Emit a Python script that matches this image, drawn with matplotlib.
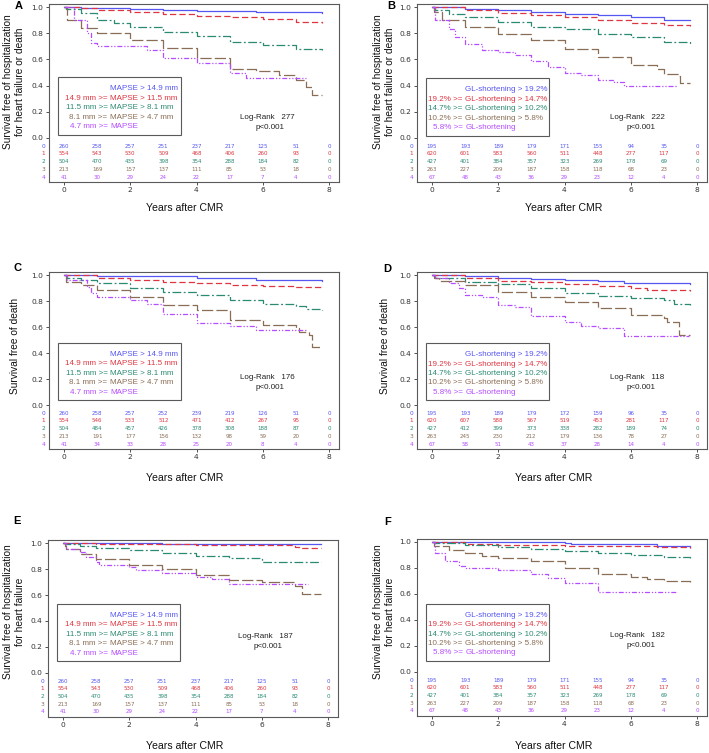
import matplotlib
matplotlib.use("Agg")
import matplotlib.pyplot as plt
from matplotlib.patches import Rectangle

# ---- data ---------------------------------------------------------------
years = [0, 1, 2, 3, 4, 5, 6, 7, 8]
group_ids = ["0", "1", "2", "3", "4"]

mapse_prefix = ["", "14.9 mm >=", "11.5 mm >=", "8.1 mm >=", "4.7 mm >="]
mapse_suffix = ["MAPSE > 14.9 mm", "MAPSE > 11.5 mm", "MAPSE > 8.1 mm",
                "MAPSE > 4.7 mm", "MAPSE"]
gl_prefix = ["", "19.2% >=", "14.7% >=", "10.2% >=", "5.8% >="]
gl_suffix = ["GL-shortening > 19.2%", "GL-shortening > 14.7%",
             "GL-shortening > 10.2%", "GL-shortening > 5.8%", "GL-shortening"]

# numbers at risk
risk_mapse_hf_death = [[260, 258, 257, 251, 237, 217, 125, 51, 0],
                       [554, 543, 530, 509, 468, 406, 260, 93, 0],
                       [504, 470, 435, 398, 354, 288, 184, 82, 0],
                       [213, 169, 157, 137, 111, 85, 53, 18, 0],
                       [41, 30, 29, 24, 22, 17, 7, 4, 0]]
risk_gl_hf_death = [[195, 193, 189, 179, 171, 155, 94, 35, 0],
                    [620, 601, 583, 560, 511, 448, 277, 117, 0],
                    [427, 401, 384, 357, 323, 269, 178, 69, 0],
                    [263, 227, 209, 187, 158, 118, 68, 23, 0],
                    [67, 48, 43, 36, 29, 23, 12, 4, 0]]
risk_mapse_death = [[260, 258, 257, 252, 239, 219, 126, 51, 0],
                    [554, 546, 533, 512, 471, 412, 267, 95, 0],
                    [504, 484, 457, 426, 378, 308, 188, 87, 0],
                    [213, 191, 177, 156, 132, 98, 59, 20, 0],
                    [41, 34, 33, 28, 25, 20, 8, 4, 0]]
risk_gl_death = [[195, 193, 189, 179, 172, 159, 96, 35, 0],
                 [620, 607, 588, 567, 519, 453, 281, 117, 0],
                 [427, 412, 399, 373, 338, 282, 189, 74, 0],
                 [263, 245, 230, 212, 179, 136, 78, 27, 0],
                 [67, 58, 51, 43, 37, 28, 14, 4, 0]]

# survival curves (time, survival) per group
A0 = [(0, 1.0), (0.5, 0.995), (1, 0.99), (2, 0.985), (3, 0.975), (4, 0.97), (5, 0.967), (5.8, 0.96), (7.8, 0.955)]
A1 = [(0, 1.0), (0.5, 0.99), (1, 0.98), (2, 0.96), (3, 0.95), (4, 0.935), (5, 0.925), (6, 0.91), (7, 0.885), (7.8, 0.875)]
A2 = [(0, 1.0), (0.05, 0.985), (0.5, 0.955), (1, 0.9), (1.5, 0.88), (2, 0.85), (3, 0.81), (4, 0.775), (5, 0.735), (6, 0.71), (7, 0.68), (7.8, 0.67)]
A3 = [(0, 1.0), (0.1, 0.9), (0.5, 0.84), (1, 0.8), (2, 0.75), (3, 0.685), (4, 0.61), (5, 0.53), (5.8, 0.51), (6.5, 0.48), (7, 0.44), (7.3, 0.39), (7.5, 0.33), (7.8, 0.33)]
A4 = [(0, 1.0), (0.3, 0.9), (0.7, 0.805), (0.8, 0.725), (1, 0.703), (2, 0.7), (2.5, 0.67), (3, 0.61), (4, 0.57), (5, 0.5), (5.5, 0.455), (7.3, 0.455)]

B0 = [(0, 1.0), (1, 0.987), (2, 0.975), (3, 0.96), (4, 0.95), (5, 0.936), (6, 0.925), (7, 0.9), (7.8, 0.9)]
B1 = [(0, 1.0), (1, 0.975), (2, 0.955), (3, 0.936), (4, 0.92), (5, 0.9), (6, 0.88), (7, 0.865), (7.8, 0.855)]
B2 = [(0, 1.0), (0.1, 0.975), (0.5, 0.95), (1, 0.925), (2, 0.885), (3, 0.85), (4, 0.83), (5, 0.795), (6, 0.77), (7, 0.733), (7.8, 0.715)]
B3 = [(0, 1.0), (0.05, 0.96), (0.3, 0.9), (1, 0.847), (2, 0.796), (3, 0.745), (4, 0.68), (5, 0.62), (6, 0.56), (6.8, 0.53), (7, 0.49), (7.45, 0.47), (7.5, 0.42), (7.8, 0.42)]
B4 = [(0, 1.0), (0.1, 0.9), (0.5, 0.835), (0.7, 0.77), (1, 0.72), (1.5, 0.67), (2, 0.656), (2.5, 0.63), (3, 0.59), (3.5, 0.54), (4, 0.5), (4.5, 0.48), (5, 0.44), (5.5, 0.43), (5.8, 0.4), (7.4, 0.4)]

C0 = [(0, 1.0), (1, 0.995), (2, 0.99), (4, 0.98), (5.8, 0.96), (7.8, 0.957)]
C1 = [(0, 1.0), (1, 0.975), (2, 0.96), (3, 0.95), (4, 0.935), (5, 0.923), (6, 0.915), (7, 0.905), (7.8, 0.903)]
C2 = [(0, 1.0), (0.1, 0.975), (0.5, 0.96), (1, 0.935), (2, 0.9), (3, 0.87), (4, 0.845), (5, 0.81), (6, 0.78), (7, 0.76), (7.3, 0.735), (7.8, 0.73)]
C3 = [(0, 1.0), (0.05, 0.95), (0.5, 0.923), (1, 0.885), (2, 0.834), (3, 0.77), (4, 0.73), (5, 0.655), (6, 0.616), (7, 0.59), (7.1, 0.565), (7.4, 0.54), (7.5, 0.45), (7.8, 0.45)]
C4 = [(0, 1.0), (0.1, 0.96), (0.7, 0.91), (0.8, 0.86), (1, 0.83), (2, 0.81), (2.5, 0.78), (3, 0.7), (4, 0.63), (5, 0.61), (5.8, 0.578), (7.3, 0.578)]

D0 = [(0, 1.0), (1, 0.99), (2, 0.98), (3, 0.97), (4, 0.96), (5, 0.955), (5.8, 0.937), (7.8, 0.93)]
D1 = [(0, 1.0), (1, 0.975), (2, 0.955), (3, 0.945), (4, 0.93), (5, 0.915), (6, 0.898), (6.5, 0.885), (7.8, 0.88)]
D2 = [(0, 1.0), (0.1, 0.975), (1, 0.95), (2, 0.928), (3, 0.9), (4, 0.865), (5, 0.84), (6, 0.82), (7, 0.81), (7.3, 0.78), (7.8, 0.77)]
D3 = [(0, 1.0), (0.05, 0.975), (0.2, 0.957), (1, 0.923), (2, 0.872), (3, 0.83), (4, 0.795), (5, 0.745), (6, 0.693), (7, 0.67), (7.1, 0.64), (7.45, 0.54), (7.8, 0.54)]
D4 = [(0, 1.0), (0.1, 0.975), (0.5, 0.935), (0.8, 0.9), (1, 0.845), (1.5, 0.834), (2, 0.77), (2.5, 0.757), (3, 0.685), (4, 0.64), (4.5, 0.61), (5, 0.59), (5.8, 0.527), (7.75, 0.527)]

E0 = [(0, 1.0), (3, 0.995), (4, 0.99), (7.8, 0.99)]
E1 = [(0, 1.0), (1, 0.995), (4, 0.987), (6, 0.982), (7, 0.97), (7.2, 0.96), (7.8, 0.96)]
E2 = [(0, 1.0), (0.05, 0.99), (0.5, 0.975), (1, 0.964), (2, 0.944), (3, 0.925), (4, 0.9), (5, 0.887), (6, 0.856), (7.8, 0.854)]
E3 = [(0, 1.0), (0.05, 0.98), (0.1, 0.956), (0.5, 0.918), (1, 0.88), (2, 0.828), (3, 0.8), (4, 0.75), (5, 0.713), (6, 0.7), (7, 0.667), (7.2, 0.61), (7.8, 0.605)]
E4 = [(0, 1.0), (0.1, 0.956), (0.5, 0.93), (0.7, 0.89), (1, 0.854), (1.1, 0.828), (2, 0.815), (2.2, 0.79), (3, 0.77), (4, 0.738), (4.5, 0.726), (5, 0.687), (7.4, 0.687)]

F0 = [(0, 1.0), (4, 0.992), (4.2, 0.985), (6.8, 0.972), (7.8, 0.962)]
F1 = [(0, 1.0), (1, 0.985), (2, 0.98), (3, 0.975), (4, 0.972), (5, 0.967), (6.8, 0.96), (7.8, 0.954)]
F2 = [(0, 1.0), (0.1, 0.99), (1, 0.975), (2, 0.96), (3, 0.946), (4, 0.933), (5, 0.915), (6, 0.9), (7, 0.885), (7.8, 0.877)]
F3 = [(0, 1.0), (0.05, 0.972), (0.5, 0.94), (1, 0.915), (1.5, 0.89), (2, 0.877), (3, 0.85), (4, 0.8), (5, 0.75), (6, 0.73), (6.5, 0.715), (7, 0.697), (7.8, 0.69)]
F4 = [(0, 1.0), (0.1, 0.915), (0.4, 0.85), (0.8, 0.813), (1, 0.8), (2, 0.787), (3, 0.75), (3.5, 0.723), (4, 0.685), (5, 0.615), (7.4, 0.615)]

logrank = {"A": 277, "B": 222, "C": 176, "D": 118, "E": 187, "F": 182}

# ---- style ---------------------------------------------------------------
colors = ["#5656f2", "#de3540", "#2b8a72", "#8a6d55", "#b54cff"]
styles = ["-", (0, (5, 2.5)), (0, (7, 2, 1.5, 2)), (0, (9, 2.5)), (0, (4, 1.5, 1, 1.5, 1, 1.5))]
frame_col = "#5a5a5a"
sans = ["Liberation Sans", "DejaVu Sans"]

W, H = 709, 753
fig = plt.figure(figsize=(W / 100, H / 100), dpi=100)

XLIM = (-0.45, 8.3)
YLIM = (-0.335, 1.025)
PX_X = 33.125


def make_axes(x0_px, top_px, px_y):
    left = x0_px - 0.45 * PX_X
    width = (XLIM[1] - XLIM[0]) * PX_X
    top = top_px - (YLIM[1] - 1.0) * px_y
    height = (YLIM[1] - YLIM[0]) * px_y
    return fig.add_axes([left / W, 1 - (top + height) / H, width / W, height / H])


def panel(ax, curves, risk, prefix, suffix, anchor, leg_bottom, lr_num, lr_xy):
    for pts, c, ls in zip(curves, colors, styles):
        t = [p[0] for p in pts]
        s = [p[1] for p in pts]
        ax.plot(t, s, drawstyle="steps-post", color=c, ls=ls, lw=0.9)
    ax.set_xlim(*XLIM)
    ax.set_ylim(*YLIM)
    ax.set_xticks([0, 2, 4, 6, 8])
    ax.set_yticks([0.0, 0.2, 0.4, 0.6, 0.8, 1.0])
    ax.set_yticklabels(["0.0", "0.2", "0.4", "0.6", "0.8", "1.0"])
    ax.tick_params(labelsize=5.4, colors="#333333", length=2, width=0.6, pad=2)
    for sp in ax.spines.values():
        sp.set_color(frame_col)
        sp.set_linewidth(0.8)

    # number at risk table
    row_y = [-0.062, -0.122, -0.183, -0.243, -0.300]
    for i, row in enumerate(risk):
        ax.text(-0.63, row_y[i], group_ids[i], color=colors[i], fontsize=4.2,
                ha="center", va="center", clip_on=False)
        for x, n in zip(years, row):
            ax.text(x, row_y[i], str(n), color=colors[i], fontsize=4.0,
                    ha="center", va="center")

    # legend box
    ax.add_patch(Rectangle((-0.18, leg_bottom), 3.71, 0.44, fill=True,
                           facecolor="white", edgecolor=frame_col, lw=0.8, zorder=3))
    for i in range(5):
        y = leg_bottom + 0.352 - 0.0725 * i
        if prefix[i]:
            ax.text(anchor - 0.08, y, prefix[i], color=colors[i], fontsize=5.8,
                    family=sans, ha="right", va="center", zorder=4)
        ax.text(anchor, y, suffix[i], color=colors[i], fontsize=5.8,
                family=sans, ha="left", va="center", zorder=4)

    ax.text(lr_xy[0], lr_xy[1], "Log-Rank   %d" % lr_num, fontsize=5.8,
            family=sans, color="#222222", ha="center", va="center")
    ax.text(lr_xy[0] + 0.1, lr_xy[1] - 0.078, "p<0.001", fontsize=5.8,
            family=sans, color="#222222", ha="center", va="center")


axA = make_axes(64, 7, 131)
axB = make_axes(432, 7, 131)
axC = make_axes(64, 275, 130)
axD = make_axes(432, 275, 130)
axE = make_axes(63, 543, 130)
axF = make_axes(432, 542, 130)

panel(axA, [A0, A1, A2, A3, A4], risk_mapse_hf_death, mapse_prefix, mapse_suffix, 1.39, 0.023, logrank["A"], (6.13, 0.16))
panel(axB, [B0, B1, B2, B3, B4], risk_gl_hf_death, gl_prefix, gl_suffix, 1.0, 0.018, logrank["B"], (6.2, 0.16))
panel(axC, [C0, C1, C2, C3, C4], risk_mapse_death, mapse_prefix, mapse_suffix, 1.39, 0.038, logrank["C"], (6.13, 0.213))
panel(axD, [D0, D1, D2, D3, D4], risk_gl_death, gl_prefix, gl_suffix, 1.0, 0.035, logrank["D"], (6.2, 0.21))
panel(axE, [E0, E1, E2, E3, E4], risk_mapse_hf_death, mapse_prefix, mapse_suffix, 1.42, 0.09, logrank["E"], (6.1, 0.28))
panel(axF, [F0, F1, F2, F3, F4], risk_gl_hf_death, gl_prefix, gl_suffix, 1.0, 0.085, logrank["F"], (6.2, 0.28))


def ftext(x, y, s, **kw):
    fig.text(x / W, 1 - y / H, s, **kw)


# panel letters (top edge given in pixels)
for (x, y), letter in zip([(19, 1), (391, 1), (17, 263), (387, 264), (17, 516), (388, 517)], "ABCDEF"):
    ftext(x, y, letter, fontsize=8, fontweight="bold", family=sans, ha="center", va="top")

# y labels
lab_hf_death = "Survival free of hospitalization\nfor heart failure or death"
lab_death = "Survival free of death"
lab_hf = "Survival free of hospitalization\nfor heart failure"
for (x, y), s in zip([(14, 82), (384, 82), (15, 346), (385, 346), (14, 612), (384, 612)],
                     [lab_hf_death, lab_hf_death, lab_death, lab_death, lab_hf, lab_hf]):
    ftext(x, y, s, fontsize=7.3, family=sans, rotation=90, ha="center", va="center",
          linespacing=1.15, color="#111111")

# x labels
for x, y in [(185, 208), (564, 208), (185, 478), (554, 478), (185, 746), (554, 746)]:
    ftext(x, y, "Years after CMR", fontsize=7.6, family=sans, ha="center", va="center",
          color="#111111")

fig.savefig("out.png", dpi=100)
